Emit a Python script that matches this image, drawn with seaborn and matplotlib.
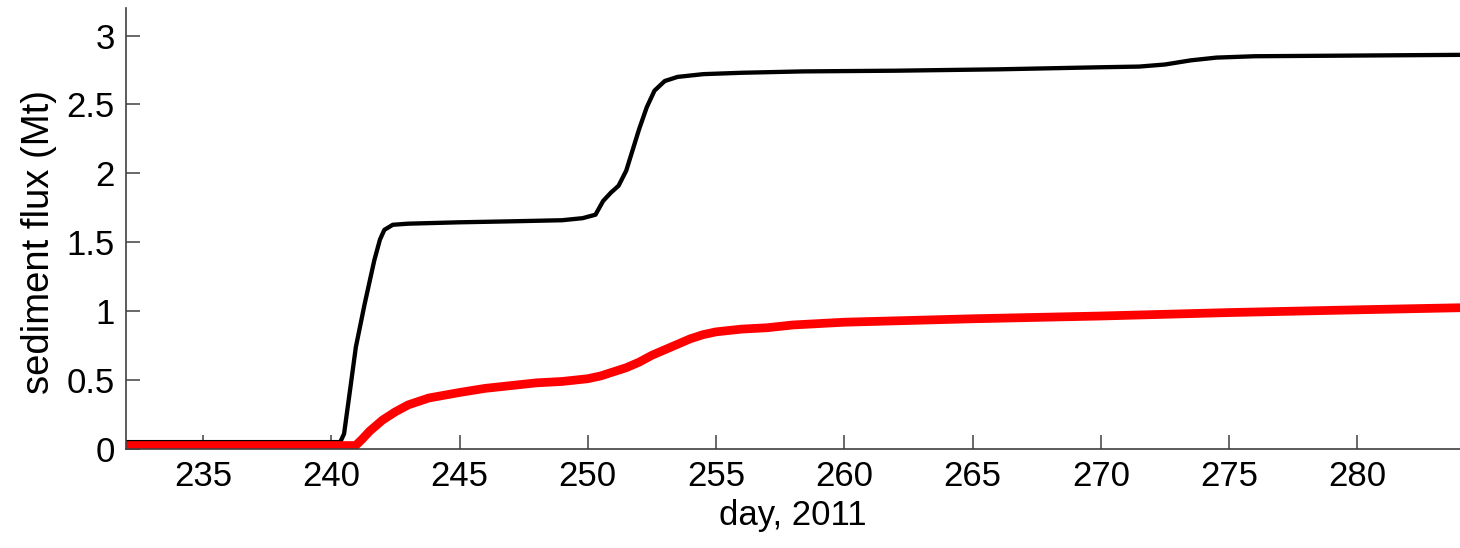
import matplotlib
matplotlib.use("Agg")
import matplotlib.pyplot as plt
import seaborn as sns
import numpy as np

# Cumulative sediment flux, black series (total)
days_black = [232, 240.35, 240.5, 240.75, 240.96, 241.3, 241.68, 241.9, 242.07, 242.4,
              243, 245, 247, 249, 249.8, 250.3, 250.6, 250.9, 251.2,
              251.5, 251.8, 252.0, 252.3, 252.6, 253.0, 253.5, 254.5, 256, 258.4,
              262, 266, 270, 271.5, 272.5, 273.5, 274.5, 276, 280, 284]
flux_black = [0.05, 0.05, 0.11, 0.45, 0.74, 1.05, 1.37, 1.52, 1.59, 1.627,
              1.635, 1.645, 1.652, 1.66, 1.675, 1.70, 1.80, 1.86, 1.91,
              2.02, 2.20, 2.32, 2.48, 2.60, 2.67, 2.70, 2.72, 2.73, 2.74,
              2.745, 2.755, 2.77, 2.775, 2.79, 2.82, 2.84, 2.85, 2.855, 2.86]

# Cumulative sediment flux, red series
days_red = [232, 240.95, 241.2, 241.5, 242, 242.5, 243, 243.8, 245, 246,
            247, 248, 249, 250, 250.5, 251, 251.5, 252, 252.5, 253,
            253.5, 254, 254.5, 255, 256, 257, 258, 259, 260, 262,
            265, 270, 275, 280, 284]
flux_red = [0.025, 0.025, 0.07, 0.13, 0.21, 0.27, 0.32, 0.37, 0.41, 0.44,
            0.46, 0.48, 0.49, 0.51, 0.53, 0.56, 0.59, 0.63, 0.68, 0.72,
            0.76, 0.80, 0.83, 0.85, 0.87, 0.88, 0.90, 0.91, 0.92, 0.93,
            0.945, 0.965, 0.99, 1.01, 1.025]

x_ticks = [235, 240, 245, 250, 255, 260, 265, 270, 275, 280]
y_ticks = [0, 0.5, 1, 1.5, 2, 2.5, 3]
y_tick_labels = ["0", "0.5", "1", "1.5", "2", "2.5", "3"]

sns.set_style("ticks")
plt.rcParams["font.family"] = ["Liberation Sans", "DejaVu Sans"]

fig = plt.figure(figsize=(14.6, 5.48), dpi=100)
ax = fig.add_axes([126 / 1460, 99 / 548, 1 - 126 / 1460, (449 - 8) / 548])

sns.lineplot(x=days_black, y=flux_black, color="black", linewidth=3.1,
             estimator=None, sort=False, ax=ax)
sns.lineplot(x=days_red, y=flux_red, color="#ff0000", linewidth=6.3,
             estimator=None, sort=False, ax=ax)

ax.set_xlim(232, 284)
ax.set_ylim(0, 3.2)
ax.set_xticks(x_ticks)
ax.set_xticklabels([str(t) for t in x_ticks])
ax.set_yticks(y_ticks)
ax.set_yticklabels(y_tick_labels)

for s in ["top", "right"]:
    ax.spines[s].set_visible(False)
for s in ["left", "bottom"]:
    ax.spines[s].set_color("#404040")
    ax.spines[s].set_linewidth(1.2)

ax.tick_params(axis="both", direction="in", length=10, width=1.1,
               color="#404040", labelsize=25, labelcolor="black", pad=8)

ax.set_xlabel("day, 2011", fontsize=25, labelpad=4, color="black")
ax.set_ylabel("sediment flux (Mt)", fontsize=27.5, color="black")
ax.yaxis.set_label_coords(-0.052, 0.47)

fig.savefig("out.png", dpi=100)
